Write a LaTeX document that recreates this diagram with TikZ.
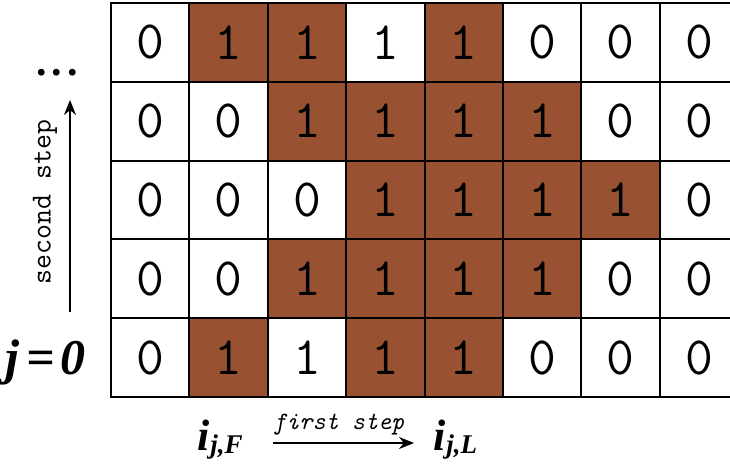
\documentclass[tikz,border=0pt]{standalone}
\usepackage{fontspec}
\setmainfont{Liberation Serif}
\usetikzlibrary{arrows.meta}
\definecolor{cellbrown}{RGB}{152,82,50}
\newcommand{\idx}[1]{{\bfseries\itshape i\kern1pt\raisebox{-3pt}{\fontsize{27}{27}\selectfont #1}}}
\begin{document}
\begin{tikzpicture}[x=1pt,y=-1pt,
  cell/.style={draw=black, line width=1.9pt, minimum width=78.6pt, minimum height=78.8pt,
    inner sep=0pt, anchor=north west, font=\ttfamily\fontsize{54}{54}\selectfont},
  on/.style={cell, fill=cellbrown},
  off/.style={cell, fill=white},
  steptext/.style={font=\ttfamily\fontsize{29}{29}\selectfont, inner sep=0pt},
  arrowline/.style={line width=1.6pt, -{Stealth[length=15pt,width=12pt]}},
  bigmath/.style={font=\fontsize{44}{44}\selectfont, inner sep=0pt}]
\useasboundingbox (0,0) rectangle (730,463);
\begin{scope}
\clip (0,0) rectangle (730,463);
% grid of cells, row 1 at the top
\foreach \r/\row in {1/{0,1,1,1,1,0,0,0}, 2/{0,0,1,1,1,1,0,0}, 3/{0,0,0,1,1,1,1,0},
                     4/{0,0,1,1,1,1,0,0}, 5/{0,1,1,1,1,0,0,0}} {
  \foreach \v [count=\c] in \row {
    \pgfmathsetmacro{\xx}{110+(\c-1)*78.4}
    \pgfmathsetmacro{\yy}{2+(\r-1)*78.8}
    \def\sty{off}
    \ifnum\v=1 \def\sty{on}\fi
    \ifnum\r=1 \ifnum\c=4 \def\sty{off}\fi\fi
    \ifnum\r=5 \ifnum\c=3 \def\sty{off}\fi\fi
    \node[\sty] (c-\r-\c) at (\xx,\yy) {\v};
  }
}
\end{scope}
% vertical step
\coordinate (vs) at (70,312);
\coordinate (ve) at (70,100);
\draw[arrowline] (vs) -- (ve);
\node[steptext, rotate=90] (second) at (45,202) {second step};
\node[font=\fontsize{42}{42}\selectfont\bfseries, inner sep=0pt, anchor=base] (dots) at (57,75) {.\kern5pt.\kern5pt.};
\node[font=\fontsize{50}{50}\selectfont\bfseries\itshape, inner sep=0pt, anchor=base west] (j0) at (5,374) {j\kern7pt=\kern6pt0};
% horizontal step
\coordinate (hs) at (273,443);
\coordinate (he) at (414,443);
\draw[arrowline] (hs) -- (he);
\node[steptext, font=\ttfamily\itshape\fontsize{25}{25}\selectfont, anchor=base west] (first) at (273,429) {first step};
\node[bigmath, anchor=base west] (iF) at (197,450) {\idx{j,F}};
\node[bigmath, anchor=base west] (iL) at (433,450) {\idx{j,L}};
\end{tikzpicture}
\end{document}
